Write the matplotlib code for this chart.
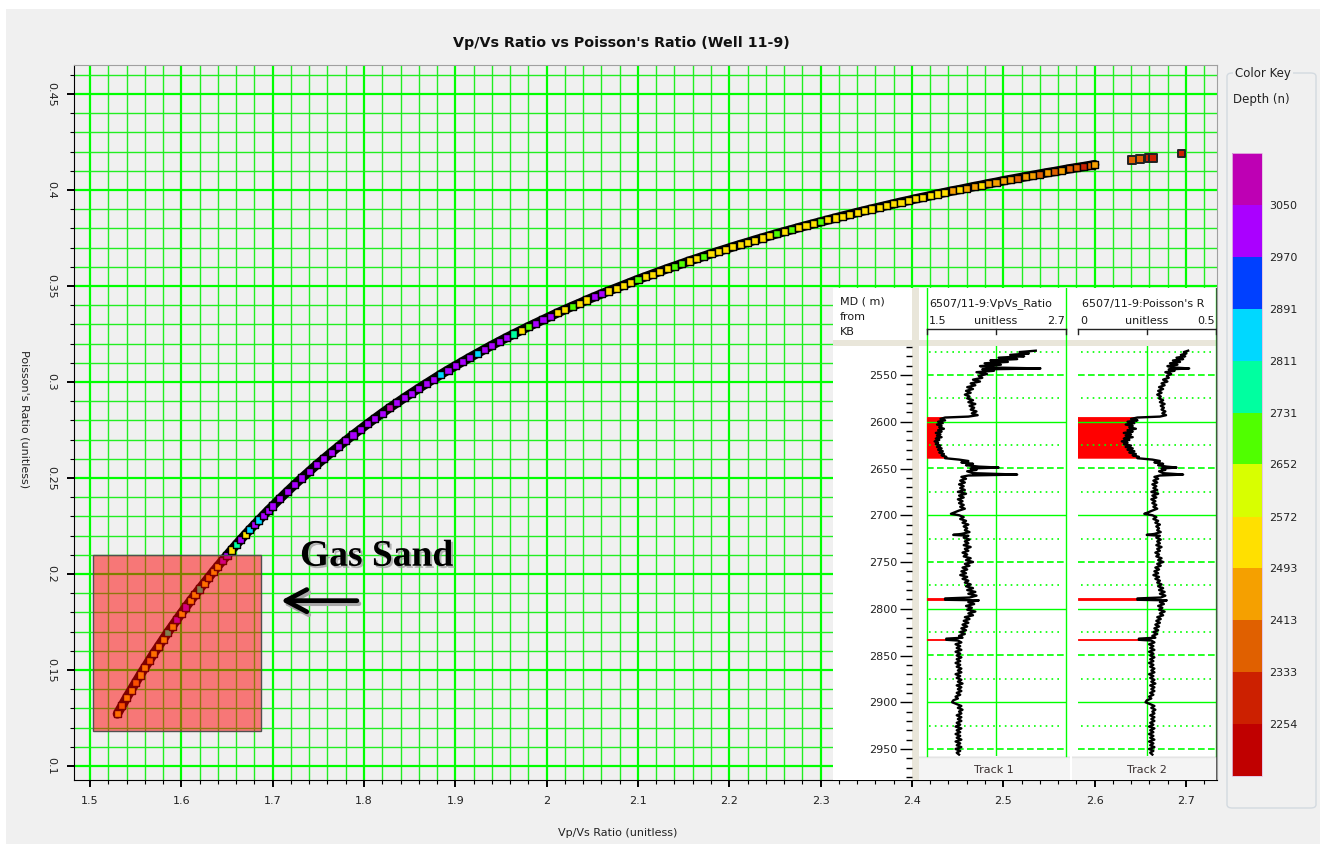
import numpy as np
import matplotlib
matplotlib.use('Agg')
import matplotlib.pyplot as plt
import matplotlib.patheffects as pe
import matplotlib.transforms as mtransforms
from matplotlib.cm import ScalarMappable
from matplotlib.colors import ListedColormap, BoundaryNorm
from matplotlib.patches import Rectangle, FancyBboxPatch
from matplotlib.ticker import MultipleLocator, FuncFormatter, NullLocator

# ---- crossplot samples: Vp/Vs, Poisson's ratio, measured depth (m) ----
vpvs = [
    1.530, 1.535, 1.540, 1.545, 1.550, 1.555, 1.560, 1.565, 1.570, 1.575,
    1.580, 1.585, 1.590, 1.595, 1.600, 1.605, 1.610, 1.615, 1.620, 1.625,
    1.630, 1.635, 1.640, 1.645, 1.650, 1.655, 1.660, 1.665, 1.670, 1.675,
    1.680, 1.685, 1.690, 1.695, 1.700,
    1.708, 1.716, 1.724, 1.732, 1.740, 1.748, 1.756, 1.764, 1.772, 1.780,
    1.788, 1.796, 1.804, 1.812, 1.820, 1.828, 1.836, 1.844, 1.852, 1.860,
    1.868, 1.876, 1.884, 1.892, 1.900, 1.908, 1.916, 1.924, 1.932, 1.940,
    1.948, 1.956, 1.964, 1.972, 1.980, 1.988, 1.996,
    2.004, 2.012, 2.020, 2.028, 2.036, 2.044, 2.052, 2.060, 2.068, 2.076,
    2.084, 2.092, 2.100, 2.108, 2.116, 2.124, 2.132, 2.140, 2.148, 2.156,
    2.164, 2.172, 2.180, 2.188, 2.196, 2.204, 2.212, 2.220, 2.228, 2.236,
    2.244, 2.252, 2.260, 2.268, 2.276, 2.284, 2.292, 2.300, 2.308, 2.316,
    2.324, 2.332, 2.340, 2.348, 2.356, 2.364, 2.372, 2.380, 2.388, 2.396,
    2.404, 2.412, 2.420, 2.428, 2.436, 2.444, 2.452, 2.460, 2.468, 2.476,
    2.484, 2.492, 2.500, 2.508, 2.516, 2.524, 2.532, 2.540, 2.548, 2.556,
    2.564, 2.572, 2.580, 2.588, 2.596, 2.600,
]
poisson = [
    0.1271, 0.1313, 0.1355, 0.1395, 0.1435, 0.1474, 0.1512, 0.1550, 0.1587, 0.1623,
    0.1659, 0.1694, 0.1728, 0.1762, 0.1795, 0.1828, 0.1860, 0.1891, 0.1922, 0.1952,
    0.1982, 0.2012, 0.2041, 0.2069, 0.2097, 0.2125, 0.2152, 0.2179, 0.2205, 0.2231,
    0.2256, 0.2281, 0.2306, 0.2331, 0.2354,
    0.2392, 0.2429, 0.2465, 0.2500, 0.2534, 0.2568, 0.2600, 0.2632, 0.2663, 0.2694,
    0.2724, 0.2753, 0.2782, 0.2810, 0.2838, 0.2865, 0.2891, 0.2917, 0.2942, 0.2967,
    0.2991, 0.3015, 0.3039, 0.3062, 0.3084, 0.3106, 0.3128, 0.3149, 0.3170, 0.3191,
    0.3211, 0.3231, 0.3250, 0.3269, 0.3288, 0.3306, 0.3324,
    0.3342, 0.3360, 0.3377, 0.3394, 0.3410, 0.3427, 0.3443, 0.3459, 0.3474, 0.3489,
    0.3504, 0.3519, 0.3534, 0.3548, 0.3562, 0.3576, 0.3590, 0.3603, 0.3616, 0.3630,
    0.3642, 0.3655, 0.3668, 0.3680, 0.3692, 0.3704, 0.3716, 0.3727, 0.3739, 0.3750,
    0.3761, 0.3772, 0.3783, 0.3793, 0.3804, 0.3814, 0.3824, 0.3834, 0.3844, 0.3854,
    0.3864, 0.3873, 0.3883, 0.3892, 0.3901, 0.3910, 0.3919, 0.3928, 0.3937, 0.3945,
    0.3954, 0.3962, 0.3970, 0.3979, 0.3987, 0.3995, 0.4002, 0.4010, 0.4018, 0.4025,
    0.4033, 0.4040, 0.4048, 0.4055, 0.4062, 0.4069, 0.4076, 0.4083, 0.4090, 0.4096,
    0.4103, 0.4110, 0.4116, 0.4122, 0.4129, 0.4132,
]
depth = [
    2530, 2450, 2530, 2530, 2450, 2530, 2530, 2450, 2530, 2530,
    2530, 2770, 2530, 3010, 2530, 3010, 2530, 2530, 2770, 2530,
    2450, 2530, 2530, 3010, 3010, 2530, 2770, 3010, 2530, 2850,
    3010, 2850, 3010, 3010, 3010,
    3010, 3010, 3010, 3010, 3010, 3010, 3010, 3010, 3010, 3010,
    3010, 3010, 3010, 3010, 3010, 3090, 3010, 3010, 3010, 3010,
    3010, 3010, 2850, 3010, 3010, 3010, 3010, 2850, 3010, 3010,
    3010, 3010, 2770, 2530, 2690, 3010, 3010,
    3010, 2530, 2530, 2690, 2530, 2530, 3010, 3010, 2530, 2530,
    2530, 2530, 2690, 2530, 2530, 2530, 2530, 2690, 2690, 2530,
    2530, 2690, 2530, 2530, 2530, 2530, 2530, 2530, 2530, 2530,
    2530, 2690, 2530, 2690, 2530, 2530, 2530, 2690, 2530, 2530,
    2530, 2530, 2530, 2530, 2530, 2530, 2530, 2530, 2530, 2530,
    2530, 2530, 2530, 2530, 2530, 2450, 2530, 2450, 2450, 2530,
    2450, 2450, 2450, 2450, 2370, 2450, 2450, 2370, 2450, 2370,
    2450, 2370, 2370, 2290, 2370, 2450,
]

# isolated high Vp/Vs samples off the end of the trend
vpvs_out = [2.641, 2.650, 2.659, 2.664, 2.695]
poisson_out = [0.4155, 0.4162, 0.4166, 0.4166, 0.4190]
depth_out = [2370, 2370, 2290, 2290, 2290]

# gas sand window
gas_vpvs = (1.5036, 1.6869)
gas_pr = (0.1184, 0.2099)

# ---- colour key ----
key_bounds = [2174, 2254, 2333, 2413, 2493, 2572, 2652, 2731, 2811, 2891, 2970, 3050, 3130]
key_colors = ['#c00000', '#cc2000', '#e06000', '#f5a000', '#ffe000', '#d8ff00',
              '#50ff00', '#00ffa0', '#00d8ff', '#0040ff', '#aa00ff', '#be00b4']

# ---- well 6507/11-9 logs ----
log_md = [
    2524, 2525.5, 2527, 2528.5, 2530, 2531.5, 2533, 2534.5, 2536, 2537.5,
    2539, 2540.5, 2542, 2543, 2544, 2545.5, 2547, 2549, 2551, 2553,
    2555, 2557, 2559, 2561, 2563, 2565, 2567, 2569, 2571, 2573,
    2575, 2577, 2579, 2581, 2583, 2585, 2587, 2589, 2591, 2593,
    2594.5, 2595.5, 2597, 2598.5, 2600, 2601.5, 2603, 2604.5, 2606, 2607.5,
    2609, 2610.5, 2612, 2613.5, 2615, 2616.5, 2618, 2619.5, 2621, 2622.5,
    2624, 2625.5, 2627, 2628.5, 2630, 2631.5, 2633, 2634.5, 2636, 2637.5,
    2639, 2640.5, 2642, 2643.5, 2645, 2646.5, 2648, 2649, 2650, 2651.5,
    2653, 2655, 2656.5, 2657.5, 2659, 2661, 2663, 2665, 2667, 2669,
    2671, 2673, 2675, 2677, 2679, 2681, 2683, 2685, 2687, 2689,
    2691, 2693, 2695, 2697, 2698.5, 2700, 2702, 2704, 2706, 2708,
    2710, 2712, 2714, 2716, 2718, 2720, 2721, 2722, 2724, 2726,
    2728, 2730, 2732, 2734, 2736, 2738, 2740, 2742, 2744, 2746,
    2748, 2750, 2752, 2754, 2756, 2758, 2760, 2762, 2764, 2766,
    2768, 2770, 2772, 2774, 2776, 2778, 2780, 2782, 2784, 2786,
    2788, 2789.0, 2790.4, 2791, 2793, 2795, 2797, 2799, 2801, 2803,
    2805, 2807, 2809, 2811, 2813, 2815, 2817, 2819, 2821, 2823,
    2825, 2827, 2829, 2831, 2832.0, 2833.2, 2834, 2836, 2838, 2840,
    2842, 2844, 2846, 2848, 2850, 2852, 2854, 2856, 2858, 2860,
    2862, 2864, 2866, 2868, 2870, 2872, 2874, 2876, 2878, 2880,
    2882, 2884, 2886, 2888, 2890, 2892, 2894, 2896, 2898, 2900,
    2902, 2904, 2906, 2908, 2910, 2912, 2914, 2916, 2918, 2920,
    2922, 2924, 2926, 2928, 2930, 2932, 2934, 2936, 2938, 2940,
    2942, 2944, 2946, 2948, 2950, 2952, 2954, 2956,
]
log_vpvs = [
    2.44, 2.30, 2.38, 2.22, 2.34, 2.12, 2.28, 2.05, 2.20, 2.00,
    2.14, 1.96, 2.06, 2.48, 1.98, 2.08, 1.93, 2.02, 1.95, 1.98,
    1.90, 1.96, 1.88, 1.92, 1.85, 1.90, 1.84, 1.88, 1.83, 1.87,
    1.85, 1.90, 1.86, 1.92, 1.87, 1.91, 1.88, 1.93, 1.89, 1.94,
    1.86, 1.66, 1.62, 1.66, 1.60, 1.64, 1.59, 1.63, 1.61, 1.65,
    1.60, 1.63, 1.58, 1.62, 1.59, 1.63, 1.58, 1.61, 1.57, 1.60,
    1.58, 1.62, 1.59, 1.63, 1.60, 1.64, 1.61, 1.65, 1.63, 1.67,
    1.66, 1.78, 1.86, 1.80, 1.90, 1.84, 1.95, 2.12, 1.88, 1.93,
    1.85, 1.90, 2.28, 1.86, 1.80, 1.84, 1.79, 1.83, 1.78, 1.82,
    1.79, 1.83, 1.77, 1.84, 1.78, 1.82, 1.77, 1.81, 1.78, 1.82,
    1.79, 1.83, 1.78, 1.74, 1.71, 1.78, 1.82, 1.79, 1.84, 1.81,
    1.86, 1.82, 1.85, 1.83, 1.87, 1.80, 1.73, 1.86, 1.82, 1.87,
    1.83, 1.86, 1.82, 1.88, 1.83, 1.86, 1.81, 1.85, 1.82, 1.88,
    1.84, 1.90, 1.83, 1.87, 1.81, 1.85, 1.80, 1.84, 1.79, 1.85,
    1.81, 1.86, 1.83, 1.88, 1.84, 1.90, 1.85, 1.92, 1.86, 1.93,
    1.87, 1.66, 1.66, 1.95, 1.86, 1.91, 1.84, 1.89, 1.85, 1.92,
    1.86, 1.90, 1.83, 1.87, 1.82, 1.86, 1.81, 1.85, 1.80, 1.84,
    1.79, 1.83, 1.78, 1.81, 1.67, 1.67, 1.77, 1.80, 1.75, 1.79,
    1.76, 1.80, 1.75, 1.79, 1.76, 1.80, 1.76, 1.79, 1.75, 1.79,
    1.76, 1.80, 1.77, 1.80, 1.75, 1.79, 1.76, 1.80, 1.77, 1.81,
    1.76, 1.80, 1.77, 1.80, 1.76, 1.79, 1.75, 1.77, 1.73, 1.72,
    1.76, 1.80, 1.77, 1.81, 1.78, 1.80, 1.76, 1.80, 1.77, 1.80,
    1.76, 1.79, 1.75, 1.80, 1.76, 1.79, 1.75, 1.79, 1.76, 1.80,
    1.75, 1.79, 1.76, 1.80, 1.75, 1.79, 1.76, 1.78,
]
log_pr = [
    0.3991, 0.3834, 0.3928, 0.3727, 0.3883, 0.3569, 0.3809, 0.3439, 0.3698, 0.3333,
    0.3603, 0.3240, 0.3459, 0.4029, 0.3288, 0.3497, 0.3165, 0.3377, 0.3216, 0.3288,
    0.3084, 0.3240, 0.3027, 0.3139, 0.2936, 0.3084, 0.2904, 0.3027, 0.2871, 0.2998,
    0.2936, 0.3084, 0.2967, 0.3139, 0.2998, 0.3112, 0.3027, 0.3165, 0.3056, 0.3191,
    0.2967, 0.2152, 0.1922, 0.2152, 0.1795, 0.2041, 0.1728, 0.1982, 0.1860, 0.2097,
    0.1795, 0.1982, 0.1659, 0.1922, 0.1728, 0.1982, 0.1659, 0.1860, 0.1587, 0.1795,
    0.1659, 0.1922, 0.1728, 0.1982, 0.1795, 0.2041, 0.1860, 0.2097, 0.1982, 0.2205,
    0.2152, 0.2694, 0.2967, 0.2768, 0.3084, 0.2904, 0.3216, 0.3569, 0.3027, 0.3165,
    0.2936, 0.3084, 0.3809, 0.2967, 0.2768, 0.2904, 0.2731, 0.2871, 0.2694, 0.2838,
    0.2731, 0.2871, 0.2656, 0.2904, 0.2694, 0.2838, 0.2656, 0.2803, 0.2694, 0.2838,
    0.2731, 0.2871, 0.2694, 0.2534, 0.2401, 0.2694, 0.2838, 0.2731, 0.2904, 0.2803,
    0.2967, 0.2838, 0.2936, 0.2871, 0.2998, 0.2768, 0.2491, 0.2967, 0.2838, 0.2998,
    0.2871, 0.2967, 0.2838, 0.3027, 0.2871, 0.2967, 0.2803, 0.2936, 0.2838, 0.3027,
    0.2904, 0.3084, 0.2871, 0.2998, 0.2803, 0.2936, 0.2768, 0.2904, 0.2731, 0.2936,
    0.2803, 0.2967, 0.2871, 0.3027, 0.2904, 0.3084, 0.2936, 0.3139, 0.2967, 0.3165,
    0.2998, 0.2152, 0.2152, 0.3216, 0.2967, 0.3112, 0.2904, 0.3056, 0.2936, 0.3139,
    0.2967, 0.3084, 0.2871, 0.2998, 0.2838, 0.2967, 0.2803, 0.2936, 0.2768, 0.2904,
    0.2731, 0.2871, 0.2694, 0.2803, 0.2205, 0.2205, 0.2656, 0.2768, 0.2576, 0.2731,
    0.2616, 0.2768, 0.2576, 0.2731, 0.2616, 0.2768, 0.2616, 0.2731, 0.2576, 0.2731,
    0.2616, 0.2768, 0.2656, 0.2768, 0.2576, 0.2731, 0.2616, 0.2768, 0.2656, 0.2803,
    0.2616, 0.2768, 0.2656, 0.2768, 0.2616, 0.2731, 0.2576, 0.2656, 0.2491, 0.2447,
    0.2616, 0.2768, 0.2656, 0.2803, 0.2694, 0.2768, 0.2616, 0.2768, 0.2656, 0.2768,
    0.2616, 0.2731, 0.2576, 0.2768, 0.2616, 0.2731, 0.2576, 0.2731, 0.2616, 0.2768,
    0.2576, 0.2731, 0.2616, 0.2768, 0.2576, 0.2731, 0.2616, 0.2694,
]
track1_range = (1.5, 2.7)
track2_range = (0.0, 0.5)
vpvs_cutoff = 1.70
pr_cutoff = 0.2354

assert len(vpvs) == len(poisson) == len(depth)
assert len(log_md) == len(log_vpvs) == len(log_pr)

W, H = 1320, 844
BG = '#f0f0f0'
GREEN = '#00ff00'
BEIGE = '#e9e6da'


def px(x0, y0, x1, y1):
    # pixel box (top-left origin) -> figure fraction rect
    return [x0 / W, 1 - y1 / H, (x1 - x0) / W, (y1 - y0) / H]


plt.rcParams['font.family'] = 'DejaVu Sans'
fig = plt.figure(figsize=(W / 100, H / 100), dpi=100, facecolor=BG)
fig.add_artist(Rectangle((0, 1 - 9 / H), 1, 9 / H, transform=fig.transFigure,
                         fc='white', ec='none', zorder=-10))
fig.add_artist(Rectangle((0, 0), 6 / W, 1, transform=fig.transFigure,
                         fc='white', ec='none', zorder=-10))

cmap = ListedColormap(key_colors)
norm = BoundaryNorm(key_bounds, cmap.N)

# ---------------- main crossplot ----------------
ax = fig.add_axes(px(74, 65, 1217, 780))
ax.set_facecolor(BG)
ax.set_xlim(1.4825, 2.734)
ax.set_ylim(0.0927, 0.4651)
ax.xaxis.set_major_locator(MultipleLocator(0.1))
ax.xaxis.set_minor_locator(MultipleLocator(0.02))
ax.yaxis.set_major_locator(MultipleLocator(0.05))
ax.yaxis.set_minor_locator(MultipleLocator(0.01))
fmt = FuncFormatter(lambda v, _: f'{round(v, 3):g}')
ax.xaxis.set_major_formatter(fmt)
ax.yaxis.set_major_formatter(fmt)
ax.grid(which='major', color=GREEN, lw=1.6)
ax.grid(which='minor', color='#22ee22', lw=1.0)
ax.set_axisbelow(True)
for side in ('left', 'bottom'):
    ax.spines[side].set_color('black')
for side in ('top', 'right'):
    ax.spines[side].set_color('#a0a0a0')
ax.tick_params(which='major', direction='out', length=5, width=1.4, colors='black',
               labelsize=8, labelcolor='#222222')
ax.tick_params(which='minor', direction='out', length=3, width=0.8, colors='black')
ax.tick_params(axis='x', pad=6.5)
ax.tick_params(axis='y', pad=8, labelrotation=-90)
for lab in ax.get_yticklabels():
    lab.set_verticalalignment('center')

ax.plot(vpvs, poisson, color='black', lw=6.8, solid_joinstyle='round',
        solid_capstyle='round', zorder=3)
ax.scatter(vpvs, poisson, c=depth, cmap=cmap, norm=norm, marker='s', s=26,
           edgecolors='black', linewidths=1.0, zorder=4)
ax.scatter(vpvs_out, poisson_out, c=depth_out, cmap=cmap, norm=norm, marker='s',
           s=30, edgecolors='#222222', linewidths=1.4, zorder=4)

ax.add_patch(Rectangle((gas_vpvs[0], gas_pr[0]), gas_vpvs[1] - gas_vpvs[0],
                       gas_pr[1] - gas_pr[0], fc=(1, 0, 0, 0.5), ec='#505050',
                       lw=1, zorder=5))

shadow = mtransforms.offset_copy(ax.transData, fig=fig, x=2, y=-3, units='dots')
for tr, col in [(shadow, '#a8a8a8'), (ax.transData, 'black')]:
    ax.annotate('', xy=(1.7091, 0.1861), xytext=(1.7923, 0.1861),
                xycoords=tr, textcoords=tr, zorder=6,
                arrowprops=dict(arrowstyle='->,head_length=1.5,head_width=0.8',
                                lw=3.4, color=col, shrinkA=0, shrinkB=0))
ax.text(1.730, 0.2043, 'Gas Sand', family='Liberation Serif', weight='bold',
        fontsize=27, ha='left', va='baseline', color='black', zorder=6,
        path_effects=[pe.SimplePatchShadow(offset=(1.5, -1.5), shadow_rgbFace='#9a9a9a',
                                           alpha=0.7), pe.Normal()])

fig.text(621 / W, 1 - 42.5 / H, "Vp/Vs Ratio vs Poisson's Ratio (Well 11-9)",
         ha='center', va='center', fontsize=10.3, weight='bold', color='#111111')
fig.text(618 / W, 1 - 833 / H, 'Vp/Vs Ratio (unitless)', ha='center', va='center',
         fontsize=8, color='#222222')
fig.text(24 / W, 1 - 419 / H, "Poisson's Ratio (unitless)", ha='center', va='center',
         rotation=270, fontsize=8, color='#222222')

# ---------------- log display panel ----------------
pan = fig.add_axes(px(833, 288, 1217, 780), zorder=5)
pan.set_xlim(833, 1217)
pan.set_ylim(780, 288)
pan.axis('off')
pan.add_patch(Rectangle((833, 288), 384, 492, fc='white', ec='none'))
pan.add_patch(Rectangle((833, 340), 384, 6, fc=BEIGE, ec='none'))
pan.add_patch(Rectangle((912, 288), 7, 492, fc=BEIGE, ec='none'))
pan.add_patch(Rectangle((919, 756), 298, 24, fc='#f4f4f4', ec='none'))
pan.plot([919, 1217], [756.5, 756.5], color='#e4e4e4', lw=1)
pan.plot([1071, 1071], [757, 780], color='white', lw=1.5)
pan.text(994, 770, 'Track 1', ha='center', va='center', fontsize=8, color='#3a3030')
pan.text(1147, 770, 'Track 2', ha='center', va='center', fontsize=8, color='#3a3030')
for xb in (926.5, 1066, 1216):
    pan.plot([xb, xb], [288, 756], color=GREEN, lw=1)
pan.plot([1217, 1217], [288, 780], color='#404040', lw=1.2)

hdr = dict(fontsize=8, color='#1a1a1a', va='center')
pan.text(840, 302, 'MD ( m)', ha='left', **hdr)
pan.text(840, 317, 'from', ha='left', **hdr)
pan.text(840, 332, 'KB', ha='left', **hdr)
pan.text(929, 304, '6507/11-9:VpVs_Ratio', ha='left', **hdr)
pan.text(929, 321, f'{track1_range[0]:g}', ha='left', **hdr)
pan.text(996, 321, 'unitless', ha='center', **hdr)
pan.text(1065, 321, f'{track1_range[1]:g}', ha='right', **hdr)
pan.text(1082, 304, "6507/11-9:Poisson's R", ha='left', clip_on=True, **hdr)
pan.text(1080, 321, f'{track2_range[0]:g}', ha='left', **hdr)
pan.text(1147, 321, 'unitless', ha='center', **hdr)
pan.text(1215, 321, f'{track2_range[1]:g}', ha='right', **hdr)
for x0, x1 in [(926.5, 1066), (1078, 1216)]:
    pan.plot([x0, x1], [328.5, 328.5], color='#222222', lw=1)
    for xt in (x0, (x0 + x1) / 2, x1):
        pan.plot([xt, xt], [328.5, 334], color='#222222', lw=1)

md = np.array(log_md)
lv = np.array(log_vpvs)
lp = np.array(log_pr)

t1 = fig.add_axes(px(926.5, 346, 1066, 756), zorder=6)
t2 = fig.add_axes(px(1078, 346, 1216, 756), zorder=6)
t1.set_xlim(*track1_range)
t2.set_xlim(*track2_range)
for t in (t1, t2):
    t.set_facecolor('none')
    t.set_ylim(2957.5, 2519)
    t.set_xticks([])
    t.set_yticks([])
    for s in t.spines.values():
        s.set_visible(False)
    for d in range(2525, 2957, 25):
        if d % 100 == 0:
            t.axhline(d, color=GREEN, lw=1.0)
        elif d % 50 == 0:
            t.axhline(d, color=GREEN, lw=1.2, ls=(0, (4, 2)))
        else:
            t.axhline(d, color=GREEN, lw=1.2, ls=(0, (1, 2.5)), xmin=0.02, xmax=0.98)
t1.axvline(sum(track1_range) / 2, color=GREEN, lw=1)
t2.axvline(sum(track2_range) / 2, color=GREEN, lw=1)

t1.fill_betweenx(md, track1_range[0], lv, where=lv < vpvs_cutoff,
                 facecolor='red', edgecolor='red', lw=0.6)
t2.fill_betweenx(md, track2_range[0], lp, where=lp < pr_cutoff,
                 facecolor='red', edgecolor='red', lw=0.6)
t1.plot(lv, md, color='black', lw=1.7)
t2.plot(lp, md, color='black', lw=1.7)

dax = fig.add_axes(px(833, 346, 912, 780), zorder=6)
dax.set_facecolor('none')
dax.set_ylim(2983, 2519)
dax.set_xticks([])
for s in dax.spines.values():
    s.set_visible(False)
dax.spines['left'].set_position(('axes', 1.0))
dax.yaxis.set_major_locator(MultipleLocator(50))
dax.yaxis.set_minor_locator(MultipleLocator(10))
dax.yaxis.set_major_formatter(FuncFormatter(lambda v, _: f'{v:.0f}'))
dax.tick_params(axis='y', which='major', direction='out', length=8.5, width=1,
                pad=2, labelsize=8, labelcolor='#222222')
dax.tick_params(axis='y', which='minor', direction='out', length=4.5, width=1)

# ---------------- colour key ----------------
fig.add_artist(FancyBboxPatch((1227 / W, 1 - 808 / H), (1316 - 1227) / W, (808 - 73) / H,
                              boxstyle='round,pad=0,rounding_size=0.004',
                              transform=fig.transFigure, fc='none', ec='#d3dae0', lw=1))
fig.text(1235 / W, 1 - 74 / H, 'Color Key', ha='left', va='center', fontsize=8.5,
         color='#222222', bbox=dict(fc=BG, ec='none', pad=1.5))
fig.text(1233 / W, 1 - 100 / H, 'Depth (n)', ha='left', va='center', fontsize=8.5,
         color='#222222')
cax = fig.add_axes(px(1232, 152.7, 1262, 776))
cb = fig.colorbar(ScalarMappable(norm=norm, cmap=cmap), cax=cax,
                  ticks=key_bounds[1:-1], spacing='proportional')
cb.ax.yaxis.set_major_formatter(FuncFormatter(lambda v, _: f'{v:.0f}'))
cb.ax.yaxis.set_minor_locator(NullLocator())
cb.outline.set_edgecolor('#e2c0e2')
cb.outline.set_linewidth(0.6)
cax.tick_params(which='both', length=0, pad=5, labelsize=8, labelcolor='#222222')

fig.savefig('out.png', dpi=100, facecolor=BG)
